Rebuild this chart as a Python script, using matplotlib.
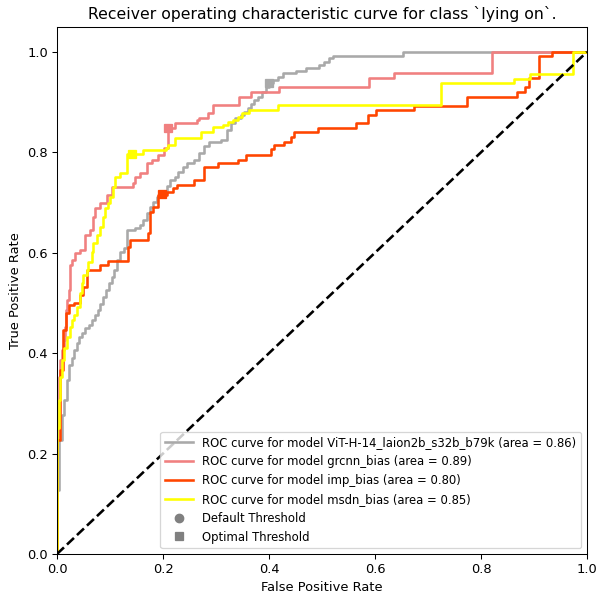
import numpy as np
import matplotlib
matplotlib.use("Agg")
import matplotlib.pyplot as plt
from matplotlib.lines import Line2D

# ROC points per model: fpr where a new tpr level starts, and that level
vit_fpr = [0, 0, 0.004, 0.009, 0.013, 0.019, 0.023, 0.028, 0.032, 0.038, 0.042, 0.047,
           0.053, 0.061, 0.066, 0.072, 0.078, 0.081, 0.087, 0.093, 0.098, 0.104, 0.108,
           0.114, 0.119, 0.127, 0.133, 0.148, 0.157, 0.163, 0.170, 0.176, 0.182, 0.189,
           0.199, 0.208, 0.214, 0.223, 0.229, 0.237, 0.246, 0.258, 0.267, 0.277, 0.286,
           0.309, 0.320, 0.328, 0.335, 0.347, 0.352, 0.360, 0.366, 0.371, 0.379, 0.386,
           0.394, 0.400, 0.407, 0.417, 0.426, 0.451, 0.470, 0.494, 0.504, 0.513, 0.521,
           0.653, 1.0]
vit_tpr = [0, 0.127, 0.227, 0.277, 0.307, 0.347, 0.376, 0.390, 0.406, 0.420, 0.432, 0.440,
           0.450, 0.456, 0.466, 0.476, 0.486, 0.498, 0.512, 0.526, 0.540, 0.552, 0.566,
           0.586, 0.602, 0.610, 0.645, 0.649, 0.655, 0.665, 0.679, 0.691, 0.701, 0.711,
           0.721, 0.733, 0.745, 0.751, 0.761, 0.771, 0.779, 0.785, 0.799, 0.813, 0.821,
           0.825, 0.845, 0.859, 0.869, 0.875, 0.880, 0.888, 0.896, 0.904, 0.910, 0.920,
           0.930, 0.938, 0.944, 0.950, 0.958, 0.962, 0.968, 0.974, 0.980, 0.988, 0.992,
           1.0, 1.0]

grcnn_fpr = [0, 0, 0.004, 0.006, 0.009, 0.013, 0.015, 0.017, 0.019, 0.023, 0.025, 0.028,
             0.034, 0.044, 0.053, 0.063, 0.068, 0.072, 0.081, 0.095, 0.104, 0.144, 0.148,
             0.157, 0.170, 0.180, 0.191, 0.201, 0.210, 0.223, 0.265, 0.267, 0.284, 0.294,
             0.343, 0.366, 0.419, 0.589, 0.636, 0.820, 1.0]
grcnn_tpr = [0, 0.300, 0.353, 0.386, 0.406, 0.426, 0.452, 0.486, 0.506, 0.526, 0.576, 0.586,
             0.600, 0.606, 0.635, 0.645, 0.671, 0.689, 0.699, 0.715, 0.731, 0.739, 0.751,
             0.759, 0.779, 0.785, 0.795, 0.809, 0.849, 0.859, 0.865, 0.869, 0.878, 0.894,
             0.910, 0.920, 0.930, 0.948, 0.958, 1.0, 1.0]

imp_fpr = [0, 0, 0.006, 0.011, 0.017, 0.023, 0.032, 0.044, 0.049, 0.057, 0.081, 0.097,
           0.134, 0.138, 0.172, 0.176, 0.182, 0.191, 0.208, 0.218, 0.227, 0.258, 0.277,
           0.303, 0.341, 0.356, 0.403, 0.409, 0.428, 0.441, 0.447, 0.492, 0.564, 0.587,
           0.602, 0.674, 0.773, 0.867, 0.883, 0.890, 0.909, 0.934, 1.0]
imp_tpr = [0, 0.227, 0.367, 0.446, 0.480, 0.496, 0.500, 0.516, 0.532, 0.566, 0.576, 0.584,
           0.612, 0.625, 0.639, 0.681, 0.691, 0.715, 0.721, 0.729, 0.735, 0.745, 0.771,
           0.779, 0.785, 0.795, 0.807, 0.815, 0.821, 0.831, 0.841, 0.849, 0.859, 0.875,
           0.884, 0.892, 0.910, 0.920, 0.930, 0.948, 0.992, 1.0, 1.0]

msdn_fpr = [0, 0, 0.004, 0.006, 0.009, 0.013, 0.019, 0.025, 0.028, 0.032, 0.038, 0.044,
            0.047, 0.049, 0.057, 0.059, 0.066, 0.068, 0.076, 0.081, 0.087, 0.091, 0.097,
            0.100, 0.106, 0.110, 0.119, 0.133, 0.163, 0.205, 0.210, 0.223, 0.271, 0.295,
            0.313, 0.322, 0.333, 0.341, 0.350, 0.362, 0.417, 0.725, 0.862, 0.892, 0.973, 1.0]
msdn_tpr = [0, 0.250, 0.307, 0.353, 0.386, 0.410, 0.432, 0.452, 0.466, 0.476, 0.492, 0.520,
            0.540, 0.556, 0.566, 0.582, 0.602, 0.620, 0.635, 0.651, 0.671, 0.689, 0.699,
            0.711, 0.731, 0.751, 0.759, 0.797, 0.805, 0.809, 0.815, 0.829, 0.841, 0.851,
            0.855, 0.861, 0.865, 0.871, 0.878, 0.884, 0.894, 0.938, 0.946, 0.956, 1.0, 1.0]

# optimal threshold operating points (fpr, tpr)
optimal = {
    "vit": (0.400, 0.938),
    "grcnn": (0.210, 0.849),
    "imp": (0.199, 0.717),
    "msdn": (0.142, 0.797),
}

models = [
    ("vit", "ViT-H-14_laion2b_s32b_b79k", 0.86, "darkgray", vit_fpr, vit_tpr),
    ("grcnn", "grcnn_bias", 0.89, "lightcoral", grcnn_fpr, grcnn_tpr),
    ("imp", "imp_bias", 0.80, "orangered", imp_fpr, imp_tpr),
    ("msdn", "msdn_bias", 0.85, "yellow", msdn_fpr, msdn_tpr),
]


def main():
    fig, ax = plt.subplots(figsize=(6.4, 6.39), dpi=93.44)
    fig.subplots_adjust(left=0.0953, right=0.9816, bottom=0.072, top=0.955)

    handles = []
    for key, name, auc, color, fpr, tpr in models:
        ax.plot(fpr, tpr, drawstyle="steps-post", color=color, lw=2)
        ox, oy = optimal[key]
        ax.plot(ox, oy, marker="s", ms=6.5, color=color, ls="none")
        handles.append(Line2D([], [], color=color, lw=2,
                              label=f"ROC curve for model {name} (area = {auc:.2f})"))

    ax.plot([0, 1], [0, 1], color="black", lw=2, ls="--")

    handles.append(Line2D([], [], marker="o", ms=6.5, color="gray", ls="none",
                          label="Default Threshold"))
    handles.append(Line2D([], [], marker="s", ms=6.5, color="gray", ls="none",
                          label="Optimal Threshold"))

    ax.set_xlim(0.0, 1.0)
    ax.set_ylim(0.0, 1.05)
    ax.set_xlabel("False Positive Rate")
    ax.set_ylabel("True Positive Rate")
    ax.set_title("Receiver operating characteristic curve for class `lying on`.")
    ax.legend(handles=handles, loc="lower right", fontsize=9, handlelength=2.4)

    fig.savefig("out.png", dpi=93.44)


if __name__ == "__main__":
    main()
